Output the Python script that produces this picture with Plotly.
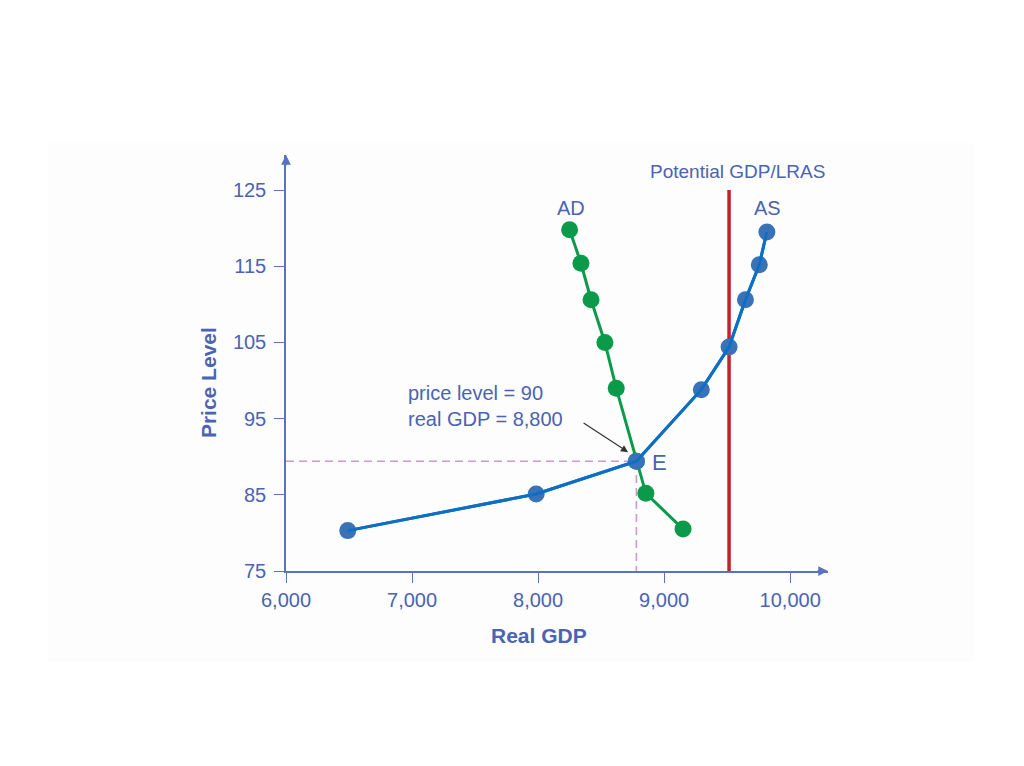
import plotly.graph_objects as go

# Data
ad_x = [8250, 8340, 8420, 8530, 8620, 8780, 8855, 9150]
ad_y = [119.8, 115.4, 110.6, 105.0, 99.0, 89.4, 85.2, 80.5]
as_x = [6490, 7985, 8780, 9295, 9515, 9645, 9755, 9815]
as_y = [80.3, 85.1, 89.4, 98.8, 104.4, 110.6, 115.2, 119.5]
lras_x = 9515
x_ticks = [6000, 7000, 8000, 9000, 10000]
x_ticklabels = ["6,000", "7,000", "8,000", "9,000", "10,000"]
y_ticks = [75, 85, 95, 105, 115, 125]
eq_x, eq_y = 8780, 89.4

BLUE_TXT = "#4a63b3"
AXIS = "#5a72c0"
GREEN = "#0b9a4a"
BLUE_LINE = "#0c6fc4"
BLUE_MK = "#3a72b8"
RED = "#c0222e"
DASH = "#c69ccc"

fig = go.Figure()

# dashed guides
fig.add_trace(go.Scatter(x=[6000, eq_x, eq_x], y=[eq_y, eq_y, 75], mode="lines",
                         line=dict(color=DASH, width=1.6, dash="8px,5px"), hoverinfo="skip"))
# LRAS
fig.add_trace(go.Scatter(x=[lras_x, lras_x], y=[75, 125], mode="lines",
                         line=dict(color=RED, width=3.5), hoverinfo="skip"))
# AD
fig.add_trace(go.Scatter(x=ad_x, y=ad_y, mode="lines+markers",
                         line=dict(color=GREEN, width=3),
                         marker=dict(color=GREEN, size=17)))
# AS
fig.add_trace(go.Scatter(x=as_x, y=as_y, mode="lines+markers",
                         line=dict(color=BLUE_LINE, width=3),
                         marker=dict(color=BLUE_MK, size=17)))
# re-draw AS line on top of markers as in reference
fig.add_trace(go.Scatter(x=as_x, y=as_y, mode="lines",
                         line=dict(color=BLUE_LINE, width=3), hoverinfo="skip"))

font = "Liberation Sans, Arial, sans-serif"
anns = [
    dict(x=8262, y=122.6, text="AD", showarrow=False, font=dict(size=20, color=BLUE_TXT)),
    dict(x=9817, y=122.6, text="AS", showarrow=False, font=dict(size=20, color=BLUE_TXT)),
    dict(x=9579, y=127.4, text="Potential GDP/LRAS", showarrow=False, font=dict(size=19, color=BLUE_TXT)),
    dict(x=8890, y=89.2, text="E", showarrow=False, xanchor="left", font=dict(size=22, color=BLUE_TXT)),
    dict(x=6955, y=96.7, text="price level = 90<br>real GDP = 8,800", showarrow=False,
         xanchor="left", align="left", font=dict(size=20, color=BLUE_TXT)),
    dict(x=8714, y=90.6, ax=-46, ay=-30, text="", showarrow=True, arrowhead=2,
         arrowsize=1.2, arrowwidth=1.2, arrowcolor="#333333"),
    dict(xref="paper", yref="paper", x=-0.144, y=0.454, text="<b>Price Level</b>", textangle=-90,
         xanchor="center", yanchor="middle",
         showarrow=False, font=dict(size=21, color=BLUE_TXT)),
    dict(xref="paper", yref="paper", x=0.467, y=-0.154, text="<b>Real GDP</b>",
         xanchor="center", yanchor="middle",
         showarrow=False, font=dict(size=21, color=BLUE_TXT)),
    # axis arrowheads
    dict(xref="paper", yref="paper", x=1.0, y=0, ax=-12, ay=0, text="", showarrow=True,
         arrowhead=2, arrowsize=1.3, arrowwidth=1.5, arrowcolor=AXIS),
    dict(xref="paper", yref="paper", x=0, y=1.0, ax=0, ay=12, text="", showarrow=True,
         arrowhead=2, arrowsize=1.3, arrowwidth=1.5, arrowcolor=AXIS),
]

fig.update_layout(
    width=1024, height=766,
    margin=dict(l=286, r=196, t=155, b=195, pad=0),
    paper_bgcolor="white", plot_bgcolor="rgba(0,0,0,0)",
    showlegend=False,
    font=dict(family=font, color=BLUE_TXT),
    annotations=anns,
    shapes=[dict(type="rect", xref="paper", yref="paper", x0=-0.439, x1=1.271, y0=-0.219, y1=1.029,
                 fillcolor="#fdfdfd", line=dict(width=0), layer="below")],
    xaxis=dict(range=[6000, 10300], tickvals=x_ticks, ticktext=x_ticklabels,
               showgrid=False, zeroline=False, showline=True, linecolor=AXIS, linewidth=1.5,
               ticks="outside", ticklen=10, tickcolor=AXIS, tickwidth=1.2,
               tickfont=dict(size=20, color=BLUE_TXT)),
    yaxis=dict(range=[75, 129.6], tickvals=y_ticks,
               showgrid=False, zeroline=False, showline=True, linecolor=AXIS, linewidth=1.5,
               ticks="outside", ticklen=10, tickcolor=AXIS, tickwidth=1.2,
               ticklabelstandoff=4,
               tickfont=dict(size=20, color=BLUE_TXT)),
)

fig.write_html("out.html")
